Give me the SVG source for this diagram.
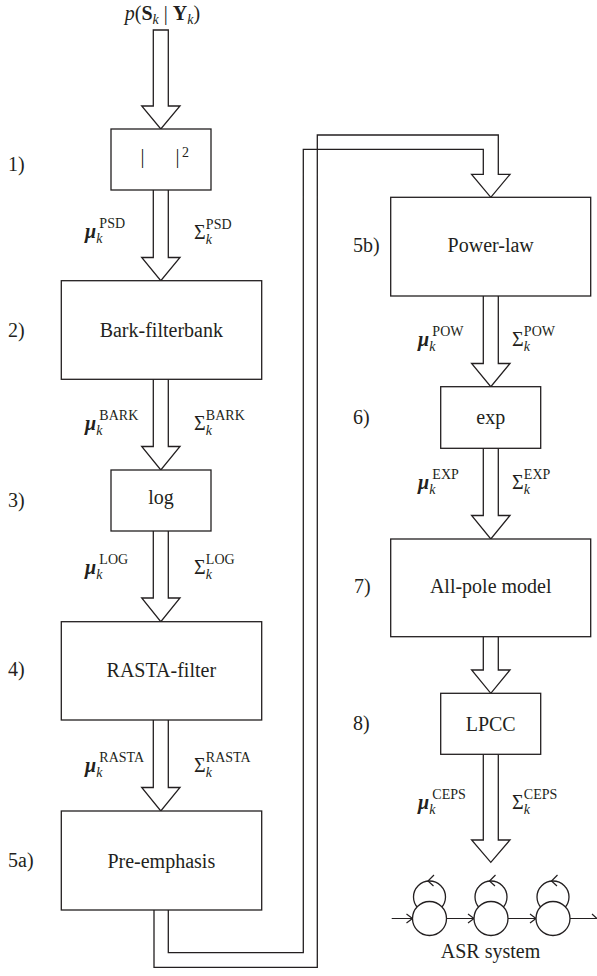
<svg xmlns="http://www.w3.org/2000/svg" width="597" height="976" viewBox="0 0 597 976">
<style>
.ln{fill:#fff;stroke:#231f20;stroke-width:1.3;stroke-linejoin:miter}
.op{fill:none;stroke:#231f20;stroke-width:1.2}
text{font-family:"Liberation Serif","Times New Roman",serif;fill:#231f20;font-size:20px}
.c{text-anchor:middle}
.mu{font-weight:bold;font-style:italic}
.it{font-style:italic}
.b{font-weight:bold}
.s{font-size:14px}
</style>
<rect width="597" height="976" fill="#fff"/>
<g id="connectors">
<path class="ln" d="M153.3,30 V106 H141.7 L160.8,129 L180,106 H168.3 V30 Z"/>
<path class="ln" d="M153.3,190 V257.5 H141.7 L160.8,280.7 L180,257.5 H168.3 V190"/>
<path class="ln" d="M153.3,379.3 V446.5 H141.7 L160.8,470 L180,446.5 H168.3 V379.3"/>
<path class="ln" d="M153.3,531 V598 H141.7 L160.8,621.7 L180,598 H168.3 V531"/>
<path class="ln" d="M153.3,720 V787.5 H141.7 L160.8,811 L180,787.5 H168.3 V720"/>
<path class="ln" d="M154,910 V967.3 H317.3 V135 H498.3 V174.3 H510 L490.8,197.3 L471.6,174.3 H483.3 V149.3 H303.3 V952.7 H168.3 V910"/>
<path class="ln" d="M483.3,296 V363.5 H471.6 L490.8,386.7 L510,363.5 H498.3 V296"/>
<path class="ln" d="M483.3,448.3 V515.5 H471.6 L490.8,539 L510,515.5 H498.3 V448.3"/>
<path class="ln" d="M483.3,636.7 V670 H471.6 L490.8,693.3 L510,670 H498.3 V636.7"/>
<path class="ln" d="M483.3,754.3 V840 H471.6 L490.8,862.3 L510,840 H498.3 V754.3"/>
</g>
<g id="input-label">
<text class="c" x="162.5" y="20"><tspan class="it">p</tspan>(<tspan class="b">S</tspan><tspan class="it s" dy="4">k</tspan><tspan dy="-4"> | </tspan><tspan class="b">Y</tspan><tspan class="it s" dy="4">k</tspan><tspan dy="-4">)</tspan></text>
</g>
<g id="node1">
<rect class="ln" x="111" y="129" width="100" height="61"/>
<text x="140.5" y="163">|</text><text x="175.5" y="163">|</text><text class="s" x="182" y="157">2</text>
<text x="8" y="171">1)</text>
</g>
<g id="node2">
<rect class="ln" x="61.3" y="280.7" width="200.4" height="98.6"/>
<text class="c" x="161.3" y="336.7">Bark-filterbank</text>
<text x="8" y="336.5">2)</text>
</g>
<g id="node3">
<rect class="ln" x="111" y="470" width="100" height="61"/>
<text class="c" x="161" y="504">log</text>
<text x="8" y="506.5">3)</text>
</g>
<g id="node4">
<rect class="ln" x="61.3" y="621.7" width="200.4" height="98.3"/>
<text class="c" x="161.3" y="676.5">RASTA-filter</text>
<text x="8" y="676">4)</text>
</g>
<g id="node5a">
<rect class="ln" x="61.3" y="811" width="200.4" height="99"/>
<text class="c" x="161.3" y="867.5">Pre-emphasis</text>
<text x="8" y="866.5">5a)</text>
</g>
<g id="node5b">
<rect class="ln" x="390.7" y="197.3" width="200" height="98.7"/>
<text class="c" x="490.7" y="252">Power-law</text>
<text x="353" y="252">5b)</text>
</g>
<g id="node6">
<rect class="ln" x="440.7" y="386.7" width="100" height="61.6"/>
<text class="c" x="490.7" y="423.5">exp</text>
<text x="353" y="423.5">6)</text>
</g>
<g id="node7">
<rect class="ln" x="390.7" y="539" width="200" height="97.7"/>
<text class="c" x="490.7" y="593">All-pole model</text>
<text x="354" y="593">7)</text>
</g>
<g id="node8">
<rect class="ln" x="440.7" y="693.3" width="100" height="61"/>
<text class="c" x="490.7" y="730.5">LPCC</text>
<text x="353" y="730">8)</text>
</g>
<g id="labels">
<text x="85" y="238"><tspan class="mu">μ</tspan><tspan class="it s" dy="5">k</tspan><tspan class="s" dx="-3" dy="-15">PSD</tspan></text>
<text x="194" y="239">Σ<tspan class="it s" dy="5">k</tspan><tspan class="s" dx="-6" dy="-15">PSD</tspan></text>
<text x="85" y="430"><tspan class="mu">μ</tspan><tspan class="it s" dy="5">k</tspan><tspan class="s" dx="-3" dy="-15">BARK</tspan></text>
<text x="194" y="430">Σ<tspan class="it s" dy="5">k</tspan><tspan class="s" dx="-6" dy="-15">BARK</tspan></text>
<text x="85" y="574"><tspan class="mu">μ</tspan><tspan class="it s" dy="5">k</tspan><tspan class="s" dx="-3" dy="-15">LOG</tspan></text>
<text x="194" y="574">Σ<tspan class="it s" dy="5">k</tspan><tspan class="s" dx="-6" dy="-15">LOG</tspan></text>
<text x="85" y="772"><tspan class="mu">μ</tspan><tspan class="it s" dy="5">k</tspan><tspan class="s" dx="-3" dy="-15">RASTA</tspan></text>
<text x="194" y="772">Σ<tspan class="it s" dy="5">k</tspan><tspan class="s" dx="-6" dy="-15">RASTA</tspan></text>
<text x="418" y="346"><tspan class="mu">μ</tspan><tspan class="it s" dy="5">k</tspan><tspan class="s" dx="-3" dy="-15">POW</tspan></text>
<text x="512" y="346">Σ<tspan class="it s" dy="5">k</tspan><tspan class="s" dx="-6" dy="-15">POW</tspan></text>
<text x="418" y="489"><tspan class="mu">μ</tspan><tspan class="it s" dy="5">k</tspan><tspan class="s" dx="-3" dy="-15">EXP</tspan></text>
<text x="512" y="489">Σ<tspan class="it s" dy="5">k</tspan><tspan class="s" dx="-6" dy="-15">EXP</tspan></text>
<text x="418" y="809"><tspan class="mu">μ</tspan><tspan class="it s" dy="5">k</tspan><tspan class="s" dx="-3" dy="-15">CEPS</tspan></text>
<text x="512" y="809">Σ<tspan class="it s" dy="5">k</tspan><tspan class="s" dx="-6" dy="-15">CEPS</tspan></text>
</g>
<g id="asr-system">
<g class="op">
<path d="M391.7,918.5 H412.5 M406.5,914 L412.5,918.5 L406.5,923"/>
<path d="M446.5,918.5 H474 M468,914 L474,918.5 L468,923"/>
<path d="M508,918.5 H536 M530,914 L536,918.5 L530,923"/>
<path d="M570,918.5 H597 M592,914 L597,918.5"/>
</g>
<circle class="ln" cx="429.5" cy="897" r="16"/>
<circle class="ln" cx="491" cy="897" r="16"/>
<circle class="ln" cx="553" cy="897" r="16"/>
<circle class="ln" cx="429.5" cy="918.5" r="17"/>
<circle class="ln" cx="491" cy="918.5" r="17"/>
<circle class="ln" cx="553" cy="918.5" r="17"/>
<g class="op">
<path d="M434,875 L428,881 L433.5,886"/>
<path d="M495.5,875 L489.5,881 L495,886"/>
<path d="M557.5,875 L551.5,881 L557,886"/>
</g>
<text class="c" x="490.5" y="958">ASR system</text>
</g>
</svg>
